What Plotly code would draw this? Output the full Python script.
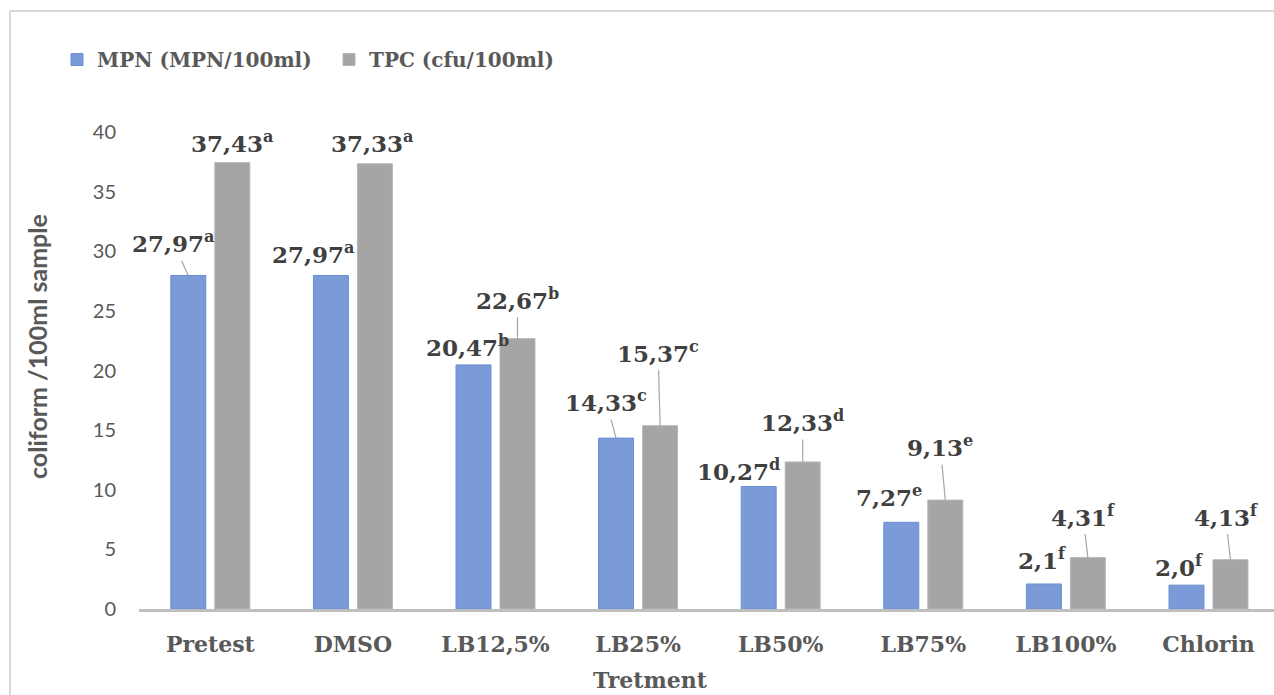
import plotly.graph_objects as go

categories = ["Pretest", "DMSO", "LB12,5%", "LB25%", "LB50%", "LB75%", "LB100%", "Chlorin"]
mpn_values = [27.97, 27.97, 20.47, 14.33, 10.27, 7.27, 2.1, 2.0]
tpc_values = [37.43, 37.33, 22.67, 15.37, 12.33, 9.13, 4.31, 4.13]
mpn_letters = ["a", "a", "b", "c", "d", "e", "f", "f"]
tpc_letters = ["a", "a", "b", "c", "d", "e", "f", "f"]
y_ticks = [0, 5, 10, 15, 20, 25, 30, 35, 40]

# label placement (pixel offsets from bar top; leader=True draws a thin connector)
mpn_label_pos = [(-15, -33, True), (-17, -22, False), (-6, -19, False), (-10, -37, True),
                 (-20, -17, False), (-12, -26, False), (-2, -25, False), (-8, -19, False)]
tpc_label_pos = [(0, -21, False), (-2, -22, False), (0, -40, True), (-2, -74, True),
                 (0, -41, True), (-5, -54, True), (-5, -42, True), (-5, -44, True)]

W, H = 1274, 695
ML, MR, MT, MB = 139, 0, 132, 86
plot_w = W - ML - MR
plot_h = H - MT - MB
cat_px = 142.6
x_hi = -0.5 + plot_w / cat_px

bar_w = 0.245
half_sep = 22 / cat_px
mpn_off = -half_sep - bar_w / 2
tpc_off = half_sep - bar_w / 2

xs = list(range(len(categories)))

fig = go.Figure()
fig.add_trace(go.Bar(
    x=xs, y=mpn_values, name="MPN (MPN/100ml)",
    width=bar_w, offset=mpn_off,
    marker=dict(color="#7A9AD8", line=dict(color="#6A8FD3", width=1)),
))
fig.add_trace(go.Bar(
    x=xs, y=tpc_values, name="TPC (cfu/100ml)",
    width=bar_w, offset=tpc_off,
    marker=dict(color="#A5A5A5", line=dict(color="#B5B5B5", width=1)),
))

label_font = dict(family="DejaVu Serif", size=23, color="#404040")
annotations = []

def add_labels(values, letters, positions, center_shift):
    for i, (v, let, (dx, dy, leader)) in enumerate(zip(values, letters, positions)):
        txt = "<b>" + str(v).replace(".", ",") + "<sup>" + let + "</sup></b>"
        xc = i + center_shift
        if leader:
            annotations.append(dict(
                x=xc, y=v, xref="x", yref="y", text=txt, showarrow=True,
                ax=dx, ay=dy, arrowhead=0, arrowwidth=1.2, arrowcolor="#A6A6A6",
                standoff=0, startstandoff=2, font=label_font,
            ))
        else:
            annotations.append(dict(
                x=xc, y=v, xref="x", yref="y", text=txt, showarrow=False,
                xshift=dx, yshift=-dy, font=label_font,
            ))

add_labels(mpn_values, mpn_letters, mpn_label_pos, -half_sep)
add_labels(tpc_values, tpc_letters, tpc_label_pos, half_sep)

def px_to_paper_x(px):
    return (px - ML) / plot_w

def px_to_paper_y(py):
    return (H - MB - py) / plot_h

# axis titles
annotations.append(dict(
    x=px_to_paper_x(37), y=px_to_paper_y(347), xref="paper", yref="paper",
    xanchor="center", yanchor="middle",
    text="<b>coliform /100ml sample</b>", textangle=-90, showarrow=False,
    font=dict(family="Lato", size=25, color="#595959"),
))
annotations.append(dict(
    x=px_to_paper_x(650), y=px_to_paper_y(680), xref="paper", yref="paper",
    xanchor="center", yanchor="middle",
    text="<b>Tretment</b>", showarrow=False,
    font=dict(family="DejaVu Serif", size=22, color="#595959"),
))

shapes = [
    dict(type="line", xref="paper", yref="paper",
         x0=px_to_paper_x(10), x1=px_to_paper_x(10),
         y0=px_to_paper_y(11), y1=px_to_paper_y(H + 10),
         line=dict(color="#D9D9D9", width=2)),
    dict(type="line", xref="paper", yref="paper",
         x0=px_to_paper_x(10), x1=px_to_paper_x(W + 10),
         y0=px_to_paper_y(11), y1=px_to_paper_y(11),
         line=dict(color="#D9D9D9", width=2)),
]

fig.update_layout(
    width=W, height=H,
    margin=dict(l=ML, r=MR, t=MT, b=MB, pad=0),
    paper_bgcolor="white", plot_bgcolor="white",
    barmode="overlay",
    showlegend=True,
    legend=dict(
        orientation="h", x=px_to_paper_x(57), y=px_to_paper_y(40),
        xanchor="left", yanchor="top",
        font=dict(family="DejaVu Serif", size=20, color="#595959", weight="bold"),
        itemwidth=30, tracegroupgap=0, entrywidth=227, entrywidthmode="pixels",
        bgcolor="rgba(0,0,0,0)",
    ),
    xaxis=dict(
        range=[-0.5, x_hi], tickmode="array", tickvals=xs, ticktext=categories,
        showline=True, linecolor="#BFBFBF", linewidth=3,
        showgrid=False, zeroline=False, ticks="",
        tickfont=dict(family="DejaVu Serif", size=22, color="#595959", weight="bold"),
        ticklabelstandoff=14,
    ),
    yaxis=dict(
        range=[0, 40], tickmode="array", tickvals=y_ticks,
        showline=False, showgrid=False, zeroline=False, ticks="",
        tickfont=dict(family="Lato", size=20, color="#595959"),
        ticklabelstandoff=22,
    ),
    annotations=annotations,
    shapes=shapes,
)

fig.write_html("out.html")
